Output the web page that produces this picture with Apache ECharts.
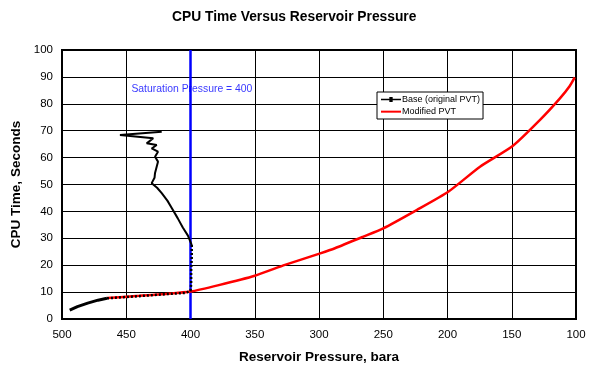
<!DOCTYPE html>
<html>
<head>
<meta charset="utf-8">
<script src="https://cdn.jsdelivr.net/npm/echarts@6/dist/echarts.min.js"></script>
<style>html,body{margin:0;padding:0;background:#fff}#c{width:598px;height:371px}</style>
</head>
<body>
<div id="c"></div>
<script>
// Modified PVT (red) : [pressure, cpu time]
const modifiedX = [465, 440, 420, 400, 378, 350, 326.5, 299, 287.6, 265.5, 250, 224, 199.4, 174.7, 149.3, 128, 112.5, 105, 101];
const modifiedY = [7.8, 8.6, 9.3, 10.2, 12.6, 16.1, 20.1, 24.4, 26.3, 30.6, 33.7, 40.5, 47.3, 56.6, 64.3, 74.0, 82.0, 86.5, 89.8];
// Base (original PVT) black: solid part below saturation (left tail)
const baseTailX = [494, 488, 480, 472, 465];
const baseTailY = [3.3, 4.6, 5.9, 7.0, 7.7];
// Base overlapping red line and the saturation line (dotted look)
const baseOverlapX = [465, 440, 420, 404, 400, 399.5, 399.5, 399, 399];
const baseOverlapY = [7.7, 8.5, 9.2, 9.7, 10.5, 13, 18, 23, 27.5];
// Base upper part
const baseUpperX = [399, 402, 406, 410, 414.6, 418, 422.4, 426, 430.2, 428, 427.6, 425.3, 427.6, 425.3, 430.2, 426.3, 434.1, 429, 454.9, 422.4];
const baseUpperY = [27.5, 31, 34, 37.5, 41.3, 44, 46.8, 48.8, 50.5, 52.5, 54.3, 58.5, 60.3, 62.2, 63.4, 64.7, 65.3, 67.2, 68.4, 69.6];
// Saturation pressure line
const satX = [400, 400];
const satY = [0, 100];
const satLabel = 'Saturation Pressure = 400';
const satLabelPos = [446, 85.3];
const xTicks = [500, 450, 400, 350, 300, 250, 200, 150, 100];
const yTicks = [0, 10, 20, 30, 40, 50, 60, 70, 80, 90, 100];

const zip = (a, b) => a.map((v, i) => [v, b[i]]);
const F = 'Arial, "Liberation Sans", sans-serif';
const chart = echarts.init(document.getElementById('c'), null, {renderer: 'canvas'});
chart.setOption({
  animation: false,
  backgroundColor: '#fff',
  title: {
    text: 'CPU Time Versus Reservoir Pressure',
    left: 167, top: 5,
    textStyle: {fontFamily: F, fontSize: 13.8, fontWeight: 'bold', color: '#000'}
  },
  legend: {
    left: 377, top: 92, width: 106, orient: 'vertical',
    backgroundColor: '#fff', borderColor: '#000', borderWidth: 1,
    padding: [3, 3, 3, 4], itemGap: 3, itemWidth: 20, itemHeight: 8,
    textStyle: {fontFamily: F, fontSize: 9, color: '#000', padding: [0, 0, 0, -4]},
    data: [
      {name: 'Base (original PVT)', icon: 'path://M0,3 L24,3 L24,5 L0,5 Z M10,1 L14,1 L14,7 L10,7 Z M0,0 L0,0 M0,8 L0,8'},
      {name: 'Modified PVT', icon: 'path://M0,0 L0,0 M0,8 L0,8 M0,3 L24,3 L24,5.4 L0,5.4 Z'}
    ]
  },
  grid: {left: 62, right: 22, top: 50, bottom: 52, show: true, borderColor: '#000', borderWidth: 2, containLabel: false},
  xAxis: {
    type: 'value', min: 100, max: 500, interval: 50, inverse: true,
    name: 'Reservoir Pressure, bara', nameLocation: 'middle', nameGap: 31,
    nameTextStyle: {fontFamily: F, fontSize: 13.5, fontWeight: 'bold', color: '#000'},
    axisLine: {show: true, lineStyle: {color: '#000', width: 2}},
    axisTick: {show: false},
    axisLabel: {fontFamily: F, fontSize: 11.5, color: '#000', margin: 10},
    splitLine: {show: true, lineStyle: {color: '#000', width: 1}}
  },
  yAxis: {
    type: 'value', min: 0, max: 100, interval: 10,
    name: 'CPU Time, Seconds', nameLocation: 'middle', nameGap: 29, nameRotate: 90,
    nameTextStyle: {fontFamily: F, fontSize: 13.5, fontWeight: 'bold', color: '#000'},
    axisLine: {show: true, lineStyle: {color: '#000', width: 2}},
    axisTick: {show: false},
    axisLabel: {fontFamily: F, fontSize: 11.5, color: '#000', margin: 9},
    splitLine: {show: true, lineStyle: {color: '#000', width: 1}}
  },
  series: [
    {
      name: 'Saturation', type: 'line', data: zip(satX, satY), symbol: 'none',
      lineStyle: {color: '#0000ff', width: 2.5}, z: 3, silent: true
    },
    {
      name: 'SatLabel', type: 'scatter', data: [satLabelPos], symbolSize: 0,
      label: {show: true, position: 'right', distance: 0, formatter: satLabel,
        fontFamily: F, fontSize: 10.4, color: '#0000ff'}, z: 6
    },
    {
      name: 'Modified PVT', type: 'line', data: zip(modifiedX, modifiedY), symbol: 'none', smooth: 0.2,
      color: '#ff0000', lineStyle: {color: '#ff0000', width: 2.5}, z: 4
    },
    {
      name: 'Base (original PVT)', type: 'line', data: zip(baseTailX, baseTailY), symbol: 'none',
      color: '#000', lineStyle: {color: '#000', width: 3}, z: 5
    },
    {
      name: 'Base (original PVT)', type: 'line', data: zip(baseOverlapX, baseOverlapY), symbol: 'none',
      color: '#000', lineStyle: {color: '#000', width: 2.5, type: [2, 2]}, z: 5
    },
    {
      name: 'Base (original PVT)', type: 'line', data: zip(baseUpperX, baseUpperY), symbol: 'none',
      color: '#000', lineStyle: {color: '#000', width: 2}, z: 5
    }
  ]
});
</script>
</body>
</html>
